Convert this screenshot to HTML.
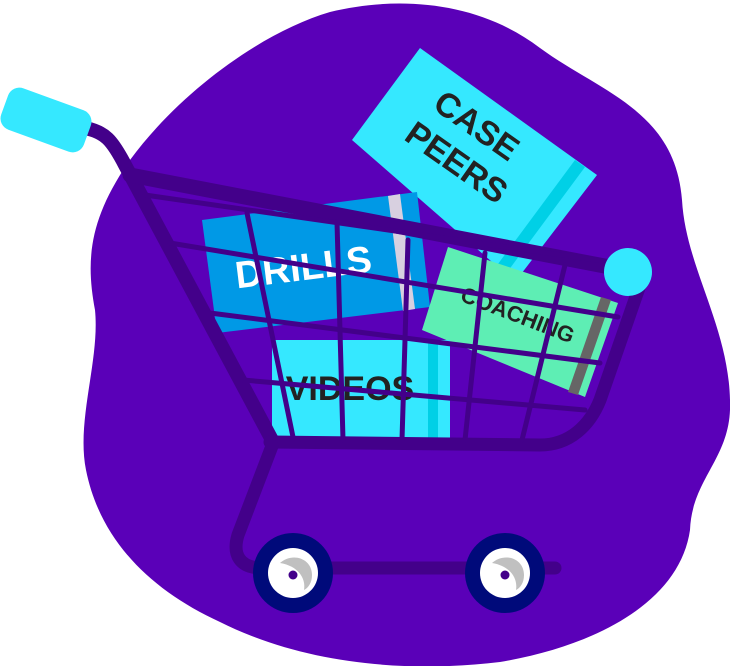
<!DOCTYPE html>
<html><head><meta charset="utf-8"><style>
html,body{margin:0;padding:0;background:#fff;width:730px;height:666px;overflow:hidden}
svg{display:block}
text{font-family:"Liberation Sans",sans-serif;font-weight:bold}
</style></head><body>
<svg width="730" height="666" viewBox="0 0 730 666" xmlns="http://www.w3.org/2000/svg">
<path d="M330 12 C400 -5,480 2,540 48 C600 92,675 110,682 200 C686 270,732 330,730 410 C728 460,692 480,690 530 C680 600,600 645,500 662 C400 674,300 662,220 622 C150 590,100 540,86 470 C76 420,100 360,95 310 C86 262,88 220,130 160 C180 92,262 32,330 12 Z" fill="#5a00b8"/>
<polygon points="420,48 597,175 515,282 352,140" fill="#35e8ff"/>
<polygon points="575,160 585,167 505,275 495,268" fill="#00d0e6"/>
<text x="0" y="0" font-size="34" fill="#222" transform="translate(470,135) rotate(35)" text-anchor="middle">CASE</text>
<text x="0" y="0" font-size="34" fill="#222" transform="translate(450,172) rotate(35)" text-anchor="middle">PEERS</text>
<polygon points="202,220 417,192 430,307 217,333" fill="#0099e6"/>
<polygon points="388,196 400,194 415,309 403,311" fill="#d8d0e0"/>
<text x="0" y="0" font-size="38" fill="#fff" transform="translate(305,280) rotate(-7)" text-anchor="middle">DRILLS</text>
<polygon points="448,247 618,303 585,397 422,330" fill="#5eeeb4"/>
<polygon points="601,297 611,300 578,395 568,392" fill="#666"/>
<text x="0" y="0" font-size="22" fill="#222" transform="translate(515,322) rotate(21)" text-anchor="middle">COACHING</text>
<rect x="272" y="340" width="178" height="98" fill="#35e8ff"/>
<rect x="428" y="340" width="10" height="98" fill="#00d0e6"/>
<text x="350" y="400" font-size="34" fill="#222" text-anchor="middle">VIDEOS</text>
<g stroke="#43008a" fill="none" stroke-linecap="round" stroke-linejoin="round">
<path d="M85 128 C105 132,112 140,125 165 L272 440" stroke-width="14"/>
<path d="M130 175 L615 268" stroke-width="15"/>
<path d="M640 285 L600 400 C590 425,570 445,540 445 L270 442" stroke-width="13"/>
<path d="M272 446 L238 535 C232 555,240 568,262 568 L555 568" stroke-width="13"/>
<g stroke-width="5">
<line x1="145" y1="195" x2="610" y2="262"/>
<line x1="170" y1="243" x2="618" y2="317"/>
<line x1="210" y1="313" x2="600" y2="363"/>
<line x1="243" y1="380" x2="585" y2="410"/>
<line x1="247" y1="213" x2="293" y2="437"/>
<line x1="337" y1="222" x2="343" y2="440"/>
<line x1="408" y1="240" x2="402" y2="440"/>
<line x1="485" y1="253" x2="465" y2="440"/>
<line x1="565" y1="265" x2="522" y2="440"/>
</g>
</g>
<rect x="2" y="98" width="88" height="44" rx="12" fill="#35e8ff" transform="rotate(20 46 120)"/>
<circle cx="628" cy="272" r="24" fill="#35e8ff"/>
<g>
<circle cx="293" cy="573" r="40" fill="#000a7a"/>
<circle cx="293" cy="573" r="25" fill="#fff"/>
<path d="M280 563 C292 552,312 558,312 575 C312 583,308 588,304 590 C306 578,298 566,280 563 Z" fill="#c0c0c0"/>
<circle cx="293" cy="575" r="4.5" fill="#43008a"/>
<circle cx="505" cy="573" r="40" fill="#000a7a"/>
<circle cx="505" cy="573" r="25" fill="#fff"/>
<path d="M492 563 C504 552,524 558,524 575 C524 583,520 588,516 590 C518 578,510 566,492 563 Z" fill="#c0c0c0"/>
<circle cx="505" cy="575" r="4.5" fill="#43008a"/>
</g>
</svg>
</body></html>
